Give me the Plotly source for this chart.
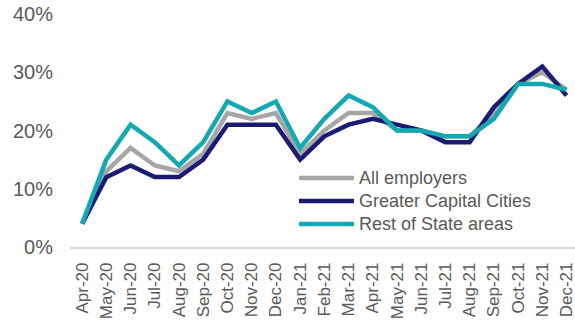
import plotly.graph_objects as go

months = ["Apr-20", "May-20", "Jun-20", "Jul-20", "Aug-20", "Sep-20", "Oct-20", "Nov-20",
          "Dec-20", "Jan-21", "Feb-21", "Mar-21", "Apr-21", "May-21", "Jun-21", "Jul-21",
          "Aug-21", "Sep-21", "Oct-21", "Nov-21", "Dec-21"]
all_employers = [4, 13, 17, 14, 13, 16, 23, 22, 23, 16, 20, 23, 23, 20, 20, 19, 19, 23, 28, 30, 27]
greater_capital = [4, 12, 14, 12, 12, 15, 21, 21, 21, 15, 19, 21, 22, 21, 20, 18, 18, 24, 28, 31, 26]
rest_of_state = [4, 15, 21, 18, 14, 18, 25, 23, 25, 17, 22, 26, 24, 20, 20, 19, 19, 22, 28, 28, 27]

series_names = ["All employers", "Greater Capital Cities", "Rest of State areas"]
series_values = [all_employers, greater_capital, rest_of_state]
colors = ["#A6A6A6", "#1B1B72", "#14A8B3"]

FONT = "Liberation Sans, Arial, sans-serif"
TXT = "#595959"

fig = go.Figure()
for name, vals, col in zip(series_names, series_values, colors):
    fig.add_trace(go.Scatter(
        x=months, y=[v / 100 for v in vals], name=name, mode="lines",
        line=dict(color=col, width=4.5), showlegend=False))

# custom legend (long line samples like the original)
leg_y = [178, 201, 224]
for i, (name, col) in enumerate(zip(series_names, colors)):
    yp = 1 - (leg_y[i] - 14) / (247 - 14)
    fig.add_shape(type="line", xref="paper", yref="paper",
                  x0=(299 - 70) / 505, x1=(354 - 70) / 505, y0=yp, y1=yp,
                  line=dict(color=col, width=4.5))
    fig.add_annotation(xref="paper", yref="paper", x=(357 - 70) / 505, y=yp,
                       text=name, showarrow=False, xanchor="left", yanchor="middle",
                       font=dict(family=FONT, size=18, color=TXT))

fig.update_layout(
    width=575, height=321,
    margin=dict(l=70, r=0, t=14, b=74),
    plot_bgcolor="white", paper_bgcolor="white",
    font=dict(family=FONT, color=TXT),
    xaxis=dict(type="category", range=[-0.5, 20.35], tickangle=-90,
               tickfont=dict(size=17, color=TXT), showgrid=False, zeroline=False,
               showline=True, linecolor="#D9D9D9", linewidth=1.5, ticks="",
               ticklabelstandoff=7),
    yaxis=dict(range=[0, 0.4], tickvals=[0, 0.1, 0.2, 0.3, 0.4], tickformat=".0%",
               tickfont=dict(size=20, color=TXT), showgrid=False, zeroline=False,
               showline=False, ticks="", ticklabelstandoff=16),
)

fig.write_html("out.html", config={"displayModeBar": False},
               post_script="document.body.style.margin='0';")
